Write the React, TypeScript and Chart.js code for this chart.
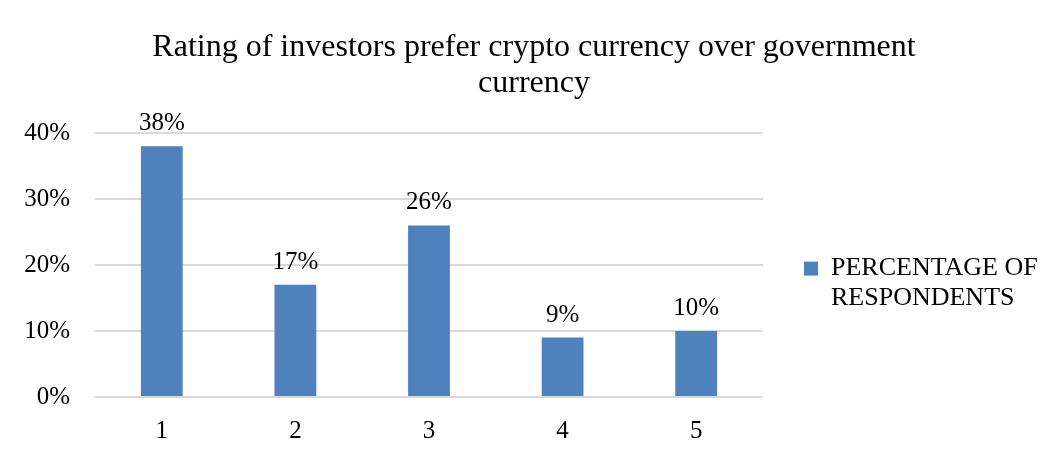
import React, { useEffect, useRef } from "react";
import { Chart, registerables } from "chart.js";

Chart.register(...registerables);

const categories = ["1", "2", "3", "4", "5"];
const seriesLabel = ["PERCENTAGE OF", "RESPONDENTS"];
const percentValues = [0.38, 0.17, 0.26, 0.09, 0.1];
const titleLines = [
  "Rating of investors prefer crypto currency over government",
  "currency",
];
const yTickMax = 0.4;
const yTickStep = 0.1;

const FONT = "'Liberation Serif', 'Times New Roman', serif";

const dataLabelPlugin = {
  id: "dataLabels",
  afterDatasetsDraw(chart: any) {
    const ctx = chart.ctx;
    ctx.save();
    ctx.font = `25px ${FONT}`;
    ctx.fillStyle = "#000";
    ctx.textAlign = "center";
    ctx.textBaseline = "alphabetic";
    chart.data.datasets.forEach((ds: any, di: number) => {
      const meta = chart.getDatasetMeta(di);
      meta.data.forEach((el: any, i: number) => {
        const v = ds.data[i];
        ctx.fillText(Math.round(v * 100) + "%", el.x, el.y - 16);
      });
    });
    ctx.restore();
  },
  afterDraw(chart: any) {
    const ctx = chart.ctx;
    ctx.save();
    ctx.fillStyle = "#000";
    ctx.fillRect(0, 0, chart.width, 7);
    ctx.fillRect(6, 7, 2, chart.height - 7);
    ctx.fillRect(6, chart.height - 3, chart.width - 6, 3);
    ctx.restore();
  },
};

const legendWidthPlugin = {
  id: "legendWidth",
  beforeLayout(chart: any) {
    const lg = chart.legend;
    if (lg && !lg.__wrapped) {
      const orig = lg.fit;
      lg.fit = function (this: any) {
        orig.call(this);
        this.width = 291;
      };
      lg.__wrapped = true;
    }
  },
};

export default function App() {
  const ref = useRef<HTMLCanvasElement>(null);
  useEffect(() => {
    if (!ref.current) return;
    const chart = new Chart(ref.current, {
      type: "bar",
      data: {
        labels: categories,
        datasets: [
          {
            label: seriesLabel as any,
            data: percentValues,
            backgroundColor: "#4f81bd",
            barPercentage: 0.313,
            categoryPercentage: 1,
          },
        ],
      },
      options: {
        responsive: false,
        animation: false,
        layout: { padding: { left: 14, right: 0, top: 0, bottom: 0 } },
        plugins: {
          tooltip: { enabled: false },
          title: {
            display: true,
            text: titleLines,
            color: "#000",
            font: { family: FONT, size: 32, weight: "normal", lineHeight: 1.125 },
            padding: { top: 30, bottom: 31 },
          },
          legend: {
            display: true,
            position: "right",
            title: {
              display: true,
              text: " ",
              font: { family: FONT, size: 10, lineHeight: 1.2 },
              padding: 49,
            },
            labels: {
              boxWidth: 14,
              boxHeight: 14,
              padding: 41,
              color: "#000",
              font: { family: FONT, size: 26, lineHeight: 1.15 },
            },
          },
        },
        scales: {
          x: {
            grid: { display: false },
            border: { display: false },
            ticks: {
              color: "#000",
              font: { family: FONT, size: 25 },
              padding: 11,
            },
            afterFit: (s: any) => {
              s.height = 64;
            },
          },
          y: {
            min: 0,
            max: yTickMax,
            grid: { color: "#d9d9d9", lineWidth: 2, drawTicks: false },
            border: { display: false },
            ticks: {
              stepSize: yTickStep,
              color: "#000",
              font: { family: FONT, size: 25 },
              padding: 25,
              callback: (v: any) => Math.round(Number(v) * 100) + "%",
            },
            afterFit: (s: any) => {
              s.width = 81;
            },
          },
        },
      },
      plugins: [legendWidthPlugin, dataLabelPlugin],
    });
    return () => chart.destroy();
  }, []);

  return (
    <div style={{ position: "relative", width: 1054, height: 461, margin: -8, background: "#fff", overflow: "hidden" }}>
      <canvas ref={ref} width={1054} height={461} style={{ position: "absolute", left: 0, top: 0 }} />
    </div>
  );
}
